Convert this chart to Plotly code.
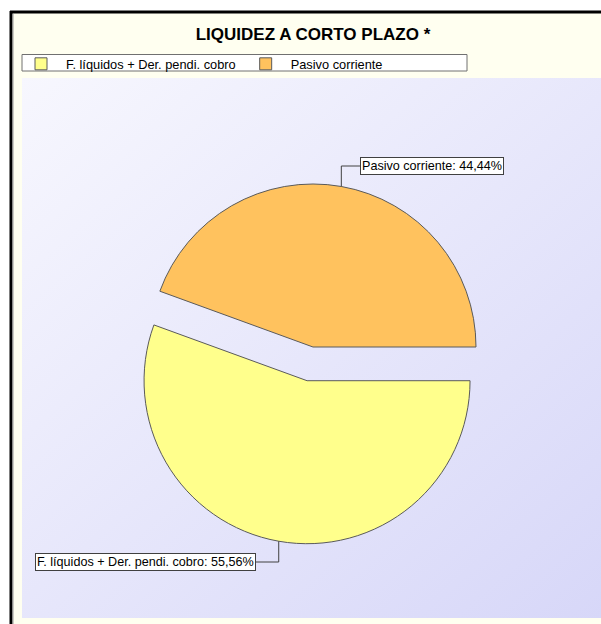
import base64
import math
import plotly.graph_objects as go

# ---- data ----
labels = ["F. líquidos + Der. pendi. cobro", "Pasivo corriente"]
values = [55.56, 44.44]
label_text = ["F. líquidos + Der. pendi. cobro: 55,56%", "Pasivo corriente: 44,44%"]
colors = ["#FFFF8C", "#FFC25E"]
pulls = [0.21, 0.0]
title_text = "LIQUIDEZ A CORTO PLAZO *"

W, H = 601, 624
FONT = "Liberation Sans, Arial, sans-serif"

def px(x):
    return x / W

def py(y):
    return 1 - y / H

# pie geometry (pixels, in screenshot coordinates)
cx, cy = 313, 347
rot = 90
max_pull = max(pulls)
dom_half = 163 * (1 + max_pull)
dom_x = [px(cx - dom_half), px(cx + dom_half)]
dom_y = [py(cy + 205), py(cy - 205)]
radius = dom_half / (1 + max_pull)

fig = go.Figure()
fig.add_trace(go.Pie(
    labels=labels, values=values, sort=False, direction="clockwise",
    rotation=rot, pull=pulls, textinfo="none", hoverinfo="label+percent",
    marker=dict(colors=colors, line=dict(color="#5a5a5a", width=1)),
    domain=dict(x=dom_x, y=dom_y),
))

svg = ("<svg xmlns='http://www.w3.org/2000/svg' width='100' height='100' viewBox='0 0 100 100' "
       "preserveAspectRatio='none'><defs><linearGradient id='g' x1='0' y1='0' x2='1' y2='1'>"
       "<stop offset='0' stop-color='#F7F7FE'/><stop offset='1' stop-color='#D6D6F8'/>"
       "</linearGradient></defs><rect width='100' height='100' fill='url(#g)'/></svg>")
src = "data:image/svg+xml;base64," + base64.b64encode(svg.encode()).decode()

images = [dict(source=src, xref="paper", yref="paper", x=px(22), y=py(78),
               sizex=(640 - 22) / W, sizey=(618 - 78) / H, sizing="stretch",
               xanchor="left", yanchor="top", layer="below")]

shapes = [
    dict(type="rect", xref="paper", yref="paper", x0=px(10), x1=px(640), y0=py(13), y1=py(78),
         fillcolor="#FFFFF0", line=dict(width=0), layer="below"),
    dict(type="rect", xref="paper", yref="paper", x0=px(10), x1=px(22), y0=py(13), y1=py(640),
         fillcolor="#FFFFF0", line=dict(width=0), layer="below"),
    dict(type="rect", xref="paper", yref="paper", x0=px(10), x1=px(640), y0=py(618), y1=py(640),
         fillcolor="#FFFFF0", line=dict(width=0), layer="below"),
    dict(type="line", xref="paper", yref="paper", x0=px(11), x1=px(11), y0=py(11), y1=py(640),
         line=dict(color="black", width=3)),
    dict(type="line", xref="paper", yref="paper", x0=px(10), x1=px(640), y0=py(12), y1=py(12),
         line=dict(color="black", width=3)),
    dict(type="line", xref="paper", yref="paper", x0=px(13), x1=px(13), y0=py(14), y1=py(640),
         line=dict(color="#9a9a9a", width=1)),
    dict(type="rect", xref="paper", yref="paper", x0=px(22), x1=px(467), y0=py(54.5), y1=py(71),
         fillcolor="white", line=dict(color="#707070", width=1)),
]

total = sum(values)
start = rot
ann = []
label_pos = [(256, 562, "right"), (360, 166, "left")]
for i, v in enumerate(values):
    frac = v / total
    mid = start + frac * 360 / 2
    start += frac * 360
    a = math.radians(mid)
    d = radius * (1 + pulls[i])
    ex, ey = cx + d * math.sin(a), cy - d * math.cos(a)
    lx, ly, anchor = label_pos[i]
    shapes.append(dict(type="path", xref="paper", yref="paper",
                       path=f"M {px(lx)},{py(ly)} L {px(ex)},{py(ly)} L {px(ex)},{py(ey)}",
                       line=dict(color="#404040", width=1)))
    ann.append(dict(text=label_text[i], xref="paper", yref="paper", x=px(lx), y=py(ly),
                    xanchor=anchor, yanchor="middle", showarrow=False,
                    font=dict(family=FONT, size=12.6, color="black"),
                    bgcolor="white", bordercolor="#404040", borderwidth=1, borderpad=1))

fig.update_layout(
    width=W, height=H, margin=dict(l=0, r=0, t=0, b=0),
    paper_bgcolor="white", plot_bgcolor="white",
    title=dict(text=f"<b>{title_text}</b>", x=px(313), y=py(34), xanchor="center",
               yanchor="middle", font=dict(family=FONT, size=17, color="black")),
    showlegend=True,
    legend=dict(orientation="h", x=px(16), y=py(49), xanchor="left", yanchor="top",
                bgcolor="rgba(0,0,0,0)", borderwidth=0, itemwidth=40,
                font=dict(family=FONT, size=12.8, color="black")),
    images=images, shapes=shapes, annotations=ann,
)

fig.write_html("out.html", config={"displayModeBar": False},
               post_script="document.body.style.margin='0';document.body.style.overflow='hidden';")
